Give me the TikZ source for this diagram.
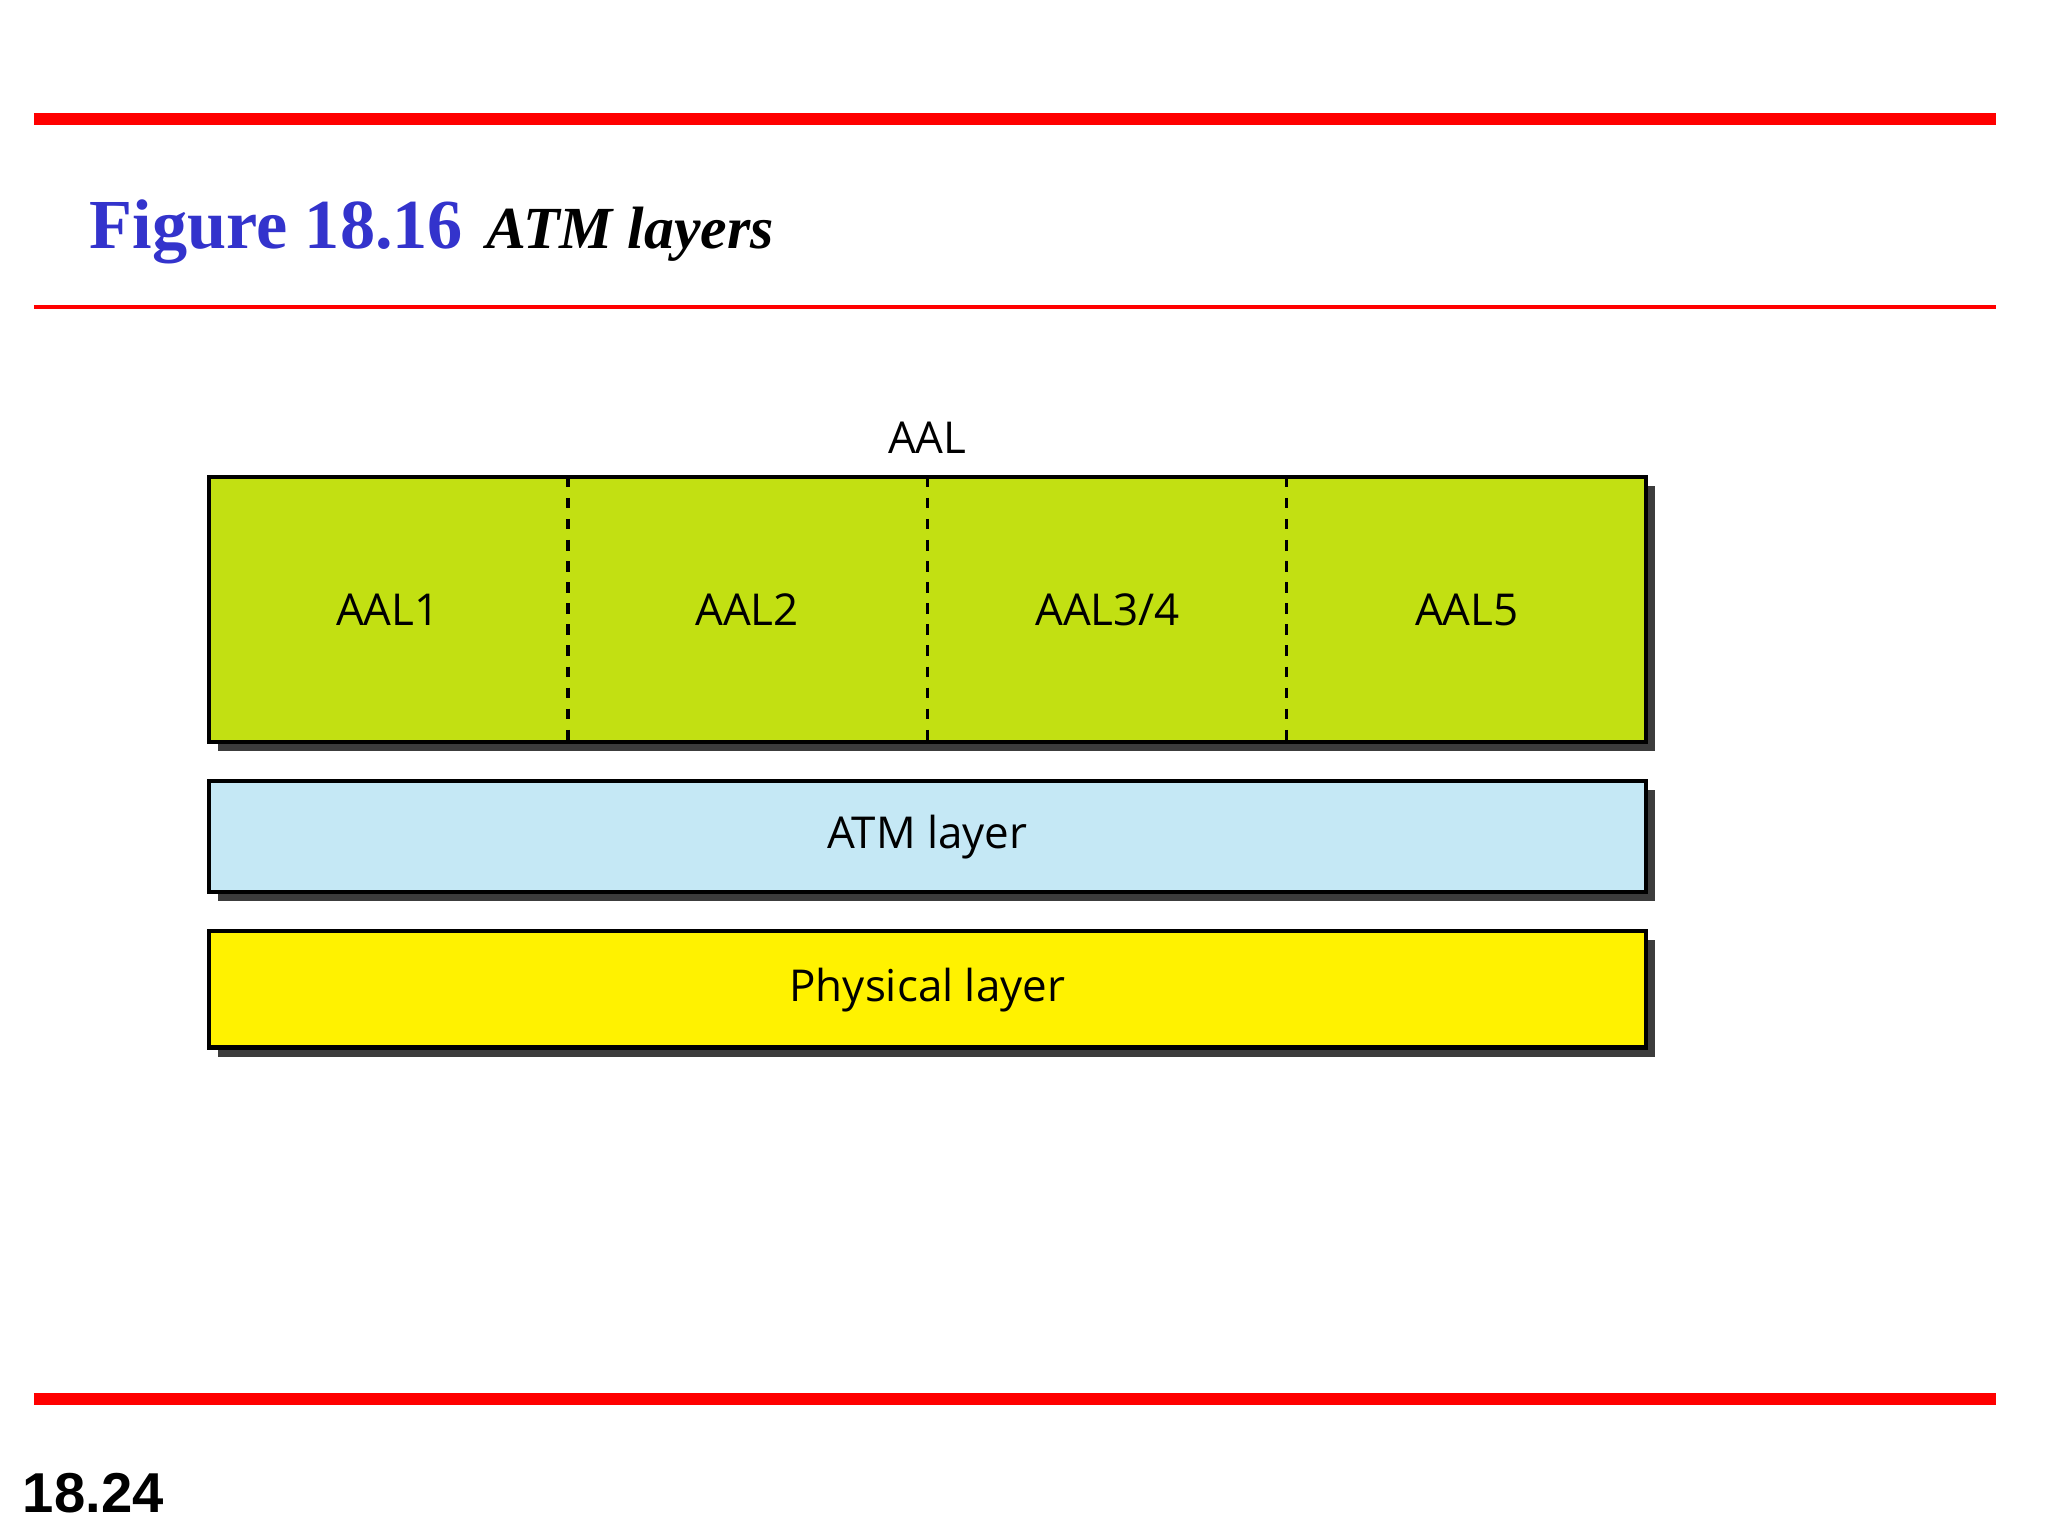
\documentclass[tikz,border=0pt]{standalone}
\usepackage{fontspec}
\setmainfont{Liberation Serif}
\newfontfamily\lab{Open Sans}
\newfontfamily\num{Liberation Sans}
\definecolor{titleblue}{RGB}{51,51,204}
\definecolor{aalgreen}{RGB}{194,224,18}
\definecolor{atmblue}{RGB}{197,232,245}
\definecolor{shadowgray}{RGB}{60,60,60}
\begin{document}
\begin{tikzpicture}[x=0.01306cm,y=-0.01306cm,
  layer/.style={draw=black,line width=1.2pt},
  shadow/.style={fill=shadowgray},
  txt/.style={font=\lab\fontsize{12.5}{14}\selectfont,inner sep=0pt},
  redline/.style={draw=red}]
\useasboundingbox (0,0) rectangle (1568,1176);
\draw[redline,line width=3.4pt] (26,91) -- (1528,91);
\draw[redline,line width=1pt] (26,235) -- (1528,235);
\draw[redline,line width=3.4pt] (26,1071) -- (1528,1071);
\node[anchor=base west,inner sep=0pt,text=titleblue,font=\fontsize{20}{24}\selectfont\bfseries] (fig) at (68,190) {Figure 18.16};
\node[anchor=base west,inner sep=0pt,font=\fontsize{17}{20}\selectfont\bfseries\itshape] (cap) at (372,190) {ATM layers};
\node[anchor=base west,inner sep=0pt,font=\num\fontsize{16}{19}\selectfont\bfseries] (pg) at (17,1158) {18.24};
% shadows
\fill[shadow] (167,372) rectangle (1267,575);
\fill[shadow] (167,605) rectangle (1267,690);
\fill[shadow] (167,720) rectangle (1267,809);
% boxes
\draw[layer,fill=aalgreen] (160,365) rectangle (1260,568);
\foreach \x in {435,710,985} \draw[dashed,line width=1pt] (\x,365) -- (\x,568);
\draw[layer,fill=atmblue] (160,598) rectangle (1260,683);
\draw[layer,fill=yellow] (160,713) rectangle (1260,802);
\node[txt] (aal) at (710,335) {AAL};
\node[txt] (a1) at (297,467) {AAL1};
\node[txt] (a2) at (572,467) {AAL2};
\node[txt] (a3) at (848,467) {AAL3/4};
\node[txt] (a5) at (1123,467) {AAL5};
\node[txt] (atm) at (710,641) {ATM layer};
\node[txt] (phy) at (710,758) {Physical layer};
\end{tikzpicture}
\end{document}
